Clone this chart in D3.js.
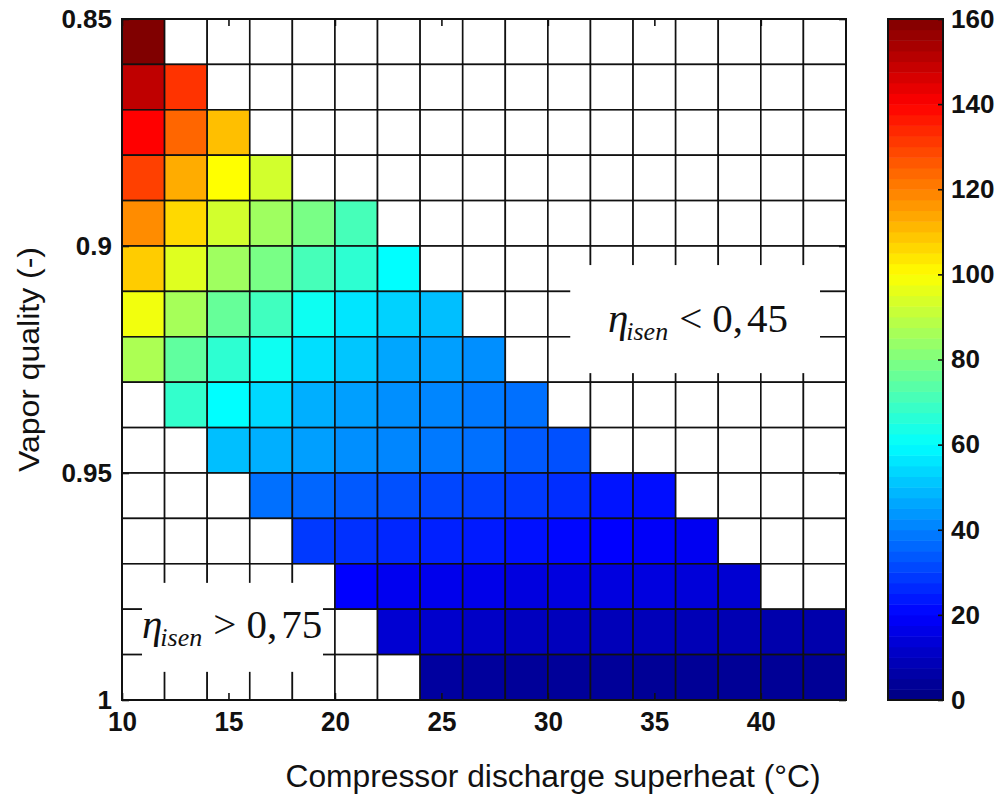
<!DOCTYPE html>
<html>
<head>
<meta charset="utf-8">
<script src="https://cdn.jsdelivr.net/npm/d3@7"></script>
<style>
  body { margin: 0; background: #fff; }
  svg { display: block; }
</style>
</head>
<body>
<script>
/***** Données *****/
// lower edge of each superheat bin (°C), bins are 2 °C wide
var superheatBins = [10, 12, 14, 16, 18, 20, 22, 24, 26, 28, 30, 32, 34, 36, 38, 40, 42];
// upper edge of each vapor quality bin, bins are 0.01 tall
var qualityBins = [0.85, 0.86, 0.87, 0.88, 0.89, 0.90, 0.91, 0.92, 0.93, 0.94, 0.95, 0.96, 0.97, 0.98, 0.99];
var xTickValues = [10, 15, 20, 25, 30, 35, 40];
var yTickValues = [0.85, 0.9, 0.95, 1];
var colorTickValues = [0, 20, 40, 60, 80, 100, 120, 140, 160];
var colorDomain = [0, 160];
var _ = null;
// one row per quality bin, one column per superheat bin (null = white cell)
var cellValues = [
  [160, _, _, _, _, _, _, _, _, _, _, _, _, _, _, _, _],
  [150, 132, _, _, _, _, _, _, _, _, _, _, _, _, _, _, _],
  [140, 124, 110, _, _, _, _, _, _, _, _, _, _, _, _, _, _],
  [130, 113, 100, 93, _, _, _, _, _, _, _, _, _, _, _, _, _],
  [118, 106, 93, 85, 79, 71, _, _, _, _, _, _, _, _, _, _, _],
  [108, 95, 85, 79, 71, 67, 60, _, _, _, _, _, _, _, _, _, _],
  [98, 86, 76, 70, 62, 56, 53, 50, _, _, _, _, _, _, _, _, _],
  [87, 75, 67, 62, 55, 51, 46, 45, 42.5, _, _, _, _, _, _, _, _],
  [_, 68, 60, 54, 47.5, 45, 42.5, 41, 39, 37.5, _, _, _, _, _, _, _],
  [_, _, 50, 47.5, 45, 42.5, 41, 39, 37.5, 34, 32.5, _, _, _, _, _, _],
  [_, _, _, 37.5, 36, 34, 32.5, 31, 30, 29, 27, 23, 22, _, _, _, _],
  [_, _, _, _, 29, 27.5, 26, 25, 24, 22.5, 21, 20, 19, 18, _, _, _],
  [_, _, _, _, _, 20, 17.6, 17, 16.5, 15, 15, 15, 15, 14, 13, _, _],
  [_, _, _, _, _, _, 13, 12, 11, 10, 9.5, 9, 9, 8.5, 8, 7, 7],
  [_, _, _, _, _, _, _, 5, 4.5, 4, 4, 4, 3.5, 3.5, 3.5, 3.5, 3.5]
];
var xTitle = "Compressor discharge superheat (\u00B0C)";
var yTitle = "Vapor quality (-)";

(function (d3) {
  "use strict";

  /***** Configuration *****/
  var width = 996, height = 796;
  var plot = { left: 122, right: 846, top: 19, bottom: 700 };
  var bar = { left: 888, right: 943 };
  var sans = "'Liberation Sans', Arial, sans-serif";
  var serif = "'Liberation Serif', 'Times New Roman', serif";

  /***** Échelles *****/
  var xScale = d3.scaleLinear().domain([10, 44]).range([plot.left, plot.right]);
  var yScale = d3.scaleLinear().domain([0.85, 1]).range([plot.top, plot.bottom]);
  var cScale = d3.scaleLinear().domain(colorDomain).range([plot.bottom, plot.top]);

  function clamp(v) { return Math.max(0, Math.min(1, v)); }
  function jet(t) {
    return d3.rgb(
      255 * clamp(1.5 - Math.abs(4 * t - 3)),
      255 * clamp(1.5 - Math.abs(4 * t - 2)),
      255 * clamp(1.5 - Math.abs(4 * t - 1))
    ).toString();
  }
  var color = d3.scaleSequential(jet).domain(colorDomain);

  var svg = d3.select("body").append("svg")
      .attr("width", width)
      .attr("height", height);
  svg.append("rect").attr("width", width).attr("height", height).attr("fill", "#fff");

  /***** Cellules *****/
  var cells = [];
  qualityBins.forEach(function (q, i) {
    superheatBins.forEach(function (s, j) {
      cells.push({ s: s, q: q, v: cellValues[i][j] });
    });
  });

  svg.append("g").selectAll("rect")
    .data(cells)
    .join("rect")
      .attr("x", function (d) { return xScale(d.s); })
      .attr("y", function (d) { return yScale(d.q); })
      .attr("width", function (d) { return xScale(d.s + 2) - xScale(d.s); })
      .attr("height", function (d) { return yScale(d.q + 0.01) - yScale(d.q); })
      .attr("fill", function (d) { return d.v == null ? "#fff" : color(d.v); })
      .attr("stroke", "#111")
      .attr("stroke-width", 1.6);

  /***** Annotations *****/
  function note(x0, x1, y0, y1, tx, ty, sign, value) {
    svg.append("rect")
      .attr("x", xScale(x0)).attr("y", yScale(y0))
      .attr("width", xScale(x1) - xScale(x0))
      .attr("height", yScale(y1) - yScale(y0))
      .attr("fill", "#fff");
    var t = svg.append("text")
      .attr("x", xScale(tx)).attr("y", yScale(ty))
      .attr("font-family", serif)
      .attr("font-size", 41)
      .attr("fill", "#111");
    t.append("tspan").attr("font-style", "italic").text("\u03B7");
    t.append("tspan").attr("font-style", "italic").attr("font-size", 26)
      .attr("dx", -2).attr("dy", 8).text("isen");
    t.append("tspan").attr("dx", 11).attr("dy", -8).text(sign);
    t.append("tspan").attr("dx", 10).text(value[0] + ",");
    t.append("tspan").attr("dx", 4).text(value[1]);
  }
  note(31.05, 42.78, 0.9042, 0.9280, 32.82, 0.9189, "<", ["0", "45"]);
  note(10.94, 19.44, 0.9742, 0.9938, 10.94, 0.9863, ">", ["0", "75"]);

  /***** Axes *****/
  var xBottom = svg.append("g")
    .attr("transform", "translate(0," + plot.bottom + ")")
    .call(d3.axisBottom(xScale).tickValues(xTickValues).tickSize(-7).tickPadding(11));
  var xTop = svg.append("g")
    .attr("transform", "translate(0," + plot.top + ")")
    .call(d3.axisTop(xScale).tickValues(xTickValues).tickSize(-7).tickFormat(""));
  var yLeft = svg.append("g")
    .attr("transform", "translate(" + plot.left + ",0)")
    .call(d3.axisLeft(yScale).tickValues(yTickValues).tickSize(-7).tickPadding(10)
      .tickFormat(function (d) { return String(d); }));
  var yRight = svg.append("g")
    .attr("transform", "translate(" + plot.right + ",0)")
    .call(d3.axisRight(yScale).tickValues(yTickValues).tickSize(-7).tickFormat(""));

  [xBottom, xTop, yLeft, yRight].forEach(function (g) {
    g.select(".domain").remove();
    g.selectAll(".tick line").attr("stroke", "#111").attr("stroke-width", 1.6);
  });
  xBottom.selectAll("text")
    .attr("font-family", sans).attr("font-size", 28).attr("font-weight", "bold")
    .attr("fill", "#111")
    .attr("textLength", function (d) { return String(d).length * 14.5; })
    .attr("lengthAdjust", "spacingAndGlyphs");
  yLeft.selectAll("text")
    .attr("font-family", sans).attr("font-size", 26).attr("font-weight", "bold")
    .attr("fill", "#111");

  svg.append("rect")
    .attr("x", plot.left).attr("y", plot.top)
    .attr("width", plot.right - plot.left).attr("height", plot.bottom - plot.top)
    .attr("fill", "none").attr("stroke", "#111").attr("stroke-width", 2);

  /***** Titres *****/
  svg.append("text")
    .attr("x", 553).attr("y", 787)
    .attr("text-anchor", "middle")
    .attr("font-family", sans).attr("font-size", 31)
    .attr("textLength", 535).attr("lengthAdjust", "spacingAndGlyphs")
    .attr("fill", "#111")
    .text(xTitle);
  svg.append("text")
    .attr("transform", "translate(39," + ((plot.top + plot.bottom) / 2) + ") rotate(-90)")
    .attr("text-anchor", "middle")
    .attr("font-family", sans).attr("font-size", 30)
    .attr("textLength", 225).attr("lengthAdjust", "spacingAndGlyphs")
    .attr("fill", "#111")
    .text(yTitle);

  /***** Barre de couleur *****/
  var nBands = 64;
  var step = (colorDomain[1] - colorDomain[0]) / nBands;
  svg.append("g").selectAll("rect")
    .data(d3.range(nBands))
    .join("rect")
      .attr("x", bar.left)
      .attr("y", function (i) { return cScale(colorDomain[0] + (i + 1) * step); })
      .attr("width", bar.right - bar.left)
      .attr("height", function (i) { return cScale(colorDomain[0] + i * step) - cScale(colorDomain[0] + (i + 1) * step) + 0.5; })
      .attr("fill", function (i) { return color(colorDomain[0] + (i + 0.5) * step); });

  var cAxis = svg.append("g")
    .attr("transform", "translate(" + bar.right + ",0)")
    .call(d3.axisRight(cScale).tickValues(colorTickValues).tickSize(-5).tickPadding(8));
  cAxis.select(".domain").remove();
  cAxis.selectAll(".tick line").attr("stroke", "#111").attr("stroke-width", 1.6);
  cAxis.selectAll("text")
    .attr("font-family", sans).attr("font-size", 26).attr("font-weight", "bold")
    .attr("fill", "#111");

  svg.append("rect")
    .attr("x", bar.left).attr("y", plot.top)
    .attr("width", bar.right - bar.left).attr("height", plot.bottom - plot.top)
    .attr("fill", "none").attr("stroke", "#111").attr("stroke-width", 2);

})(d3);
</script>
</body>
</html>
